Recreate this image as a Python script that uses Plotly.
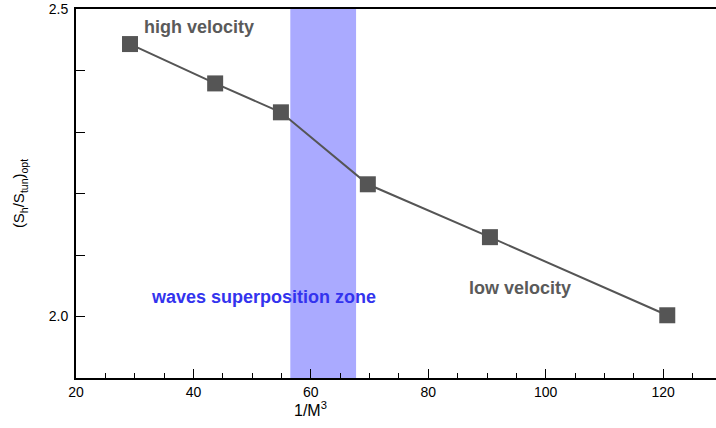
import plotly.graph_objects as go

inv_m3 = [29.2, 43.7, 54.9, 69.7, 90.5, 120.7]
s_ratio = [2.443, 2.379, 2.332, 2.215, 2.129, 2.002]
zone = [56.5, 67.7]

fig = go.Figure()
fig.add_shape(type="rect", xref="x", yref="paper", x0=zone[0], x1=zone[1], y0=0, y1=1,
              fillcolor="#aaaaff", line=dict(width=0), layer="below")
fig.add_trace(go.Scatter(x=inv_m3, y=s_ratio, mode="lines+markers",
                         line=dict(color="#555555", width=2),
                         marker=dict(symbol="square", size=16, color="#555555"),
                         showlegend=False, cliponaxis=False))

fig.add_annotation(x=31.2, y=2.471, text="<b>high velocity</b>", showarrow=False,
                   xanchor="left", font=dict(size=18, color="#5a5a5a"))
fig.add_annotation(x=52.0, y=2.031, text="<b>waves superposition zone</b>", showarrow=False,
                   font=dict(size=18, color="#3333ee"))
fig.add_annotation(x=95.6, y=2.046, text="<b>low velocity</b>", showarrow=False,
                   font=dict(size=18, color="#5a5a5a"))
fig.add_annotation(x=60, xref="x", y=409, yref="paper", yanchor="middle",
                   text="1/M<sup>3</sup>", showarrow=False, font=dict(size=16, color="#000"))
fig.layout.annotations[-1].y = -(409 - 378) / 369

fig.update_layout(
    width=716, height=428,
    margin=dict(l=76, r=0, t=9, b=50),
    paper_bgcolor="white", plot_bgcolor="white",
    font=dict(family="Liberation Sans, Arial, sans-serif", size=14, color="#000"),
    xaxis=dict(range=[20, 129], dtick=20, tick0=20, ticks="inside", ticklen=9,
               tickcolor="#000", showline=True, linecolor="#000", linewidth=2,
               mirror=True, showgrid=False, zeroline=False, automargin=False,
               minor=dict(dtick=5, ticks="inside", ticklen=5, tickcolor="#000")),
    yaxis=dict(range=[1.9, 2.5], dtick=0.5, tick0=2.0, tickformat=".1f",
               ticks="inside", ticklen=9, tickcolor="#000", automargin=False,
               ticklabelstandoff=3,
               showline=True, linecolor="#000", linewidth=2, showgrid=False, zeroline=False,
               minor=dict(dtick=0.1, ticks="inside", ticklen=9, tickcolor="#000"),
               title=dict(text="(S<sub>h</sub>/S<sub>tun</sub>)<sub>opt</sub>", font=dict(size=15), standoff=20)),
)
fig.write_html("out.html", config={"displayModeBar": False},
               post_script="document.body.style.margin='0px';")
